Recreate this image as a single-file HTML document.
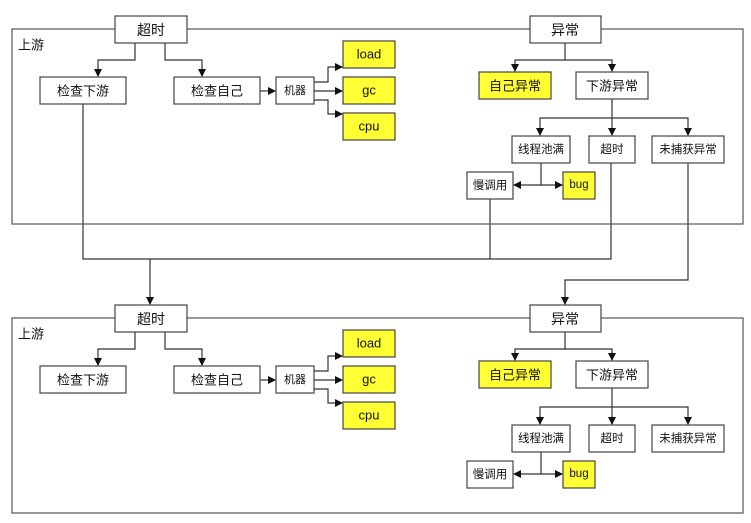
<!DOCTYPE html>
<html><head><meta charset="utf-8"><style>
html,body{margin:0;padding:0;background:#fff;}
svg{display:block;}
text{font-family:"Liberation Sans","Noto Sans CJK SC",sans-serif;fill:#111;text-anchor:middle;dominant-baseline:central;}
</style></head><body>
<svg width="751" height="523" viewBox="0 0 751 523" xmlns="http://www.w3.org/2000/svg">
<defs>
<marker id="a" markerWidth="8" markerHeight="8" refX="7" refY="4" orient="auto" markerUnits="userSpaceOnUse">
<path d="M0,0 L8,4 L0,8 z" fill="#111"/></marker>
<g id="blk">
<rect x="12" y="29" width="731" height="195" fill="none" stroke="#555" stroke-width="1.2"/>
<text x="31" y="45" font-size="13">上游</text>
<g fill="none" stroke="#333" stroke-width="1.2">
<path d="M135,43 V60 H98 V76" marker-end="url(#a)"/>
<path d="M165,43 V60 H202 V76" marker-end="url(#a)"/>
<path d="M260,91 H275" marker-end="url(#a)"/>
<path d="M314,82 H328 V67 H342" marker-end="url(#a)"/>
<path d="M314,91 H342" marker-end="url(#a)"/>
<path d="M314,100 H328 V114 H342" marker-end="url(#a)"/>
<path d="M565,43 V60 H515 V71" marker-end="url(#a)"/>
<path d="M565,60 H612 V71" marker-end="url(#a)"/>
<path d="M612,99 V118 H540 V135" marker-end="url(#a)"/>
<path d="M612,118 V135" marker-end="url(#a)"/>
<path d="M612,118 H688 V135" marker-end="url(#a)"/>
<path d="M541,163 V185 H514" marker-end="url(#a)"/>
<path d="M541,185 H562" marker-end="url(#a)"/>
</g>
<g stroke="#444" stroke-width="1.2">
<rect x="115" y="16" width="72" height="27" fill="#fff"/>
<rect x="530" y="16" width="71" height="27" fill="#fff"/>
<rect x="40" y="77" width="86" height="27" fill="#fff"/>
<rect x="174" y="77" width="86" height="27" fill="#fff"/>
<rect x="276" y="77" width="38" height="27" fill="#fff"/>
<rect x="343" y="41" width="52" height="27" fill="#ffff33"/>
<rect x="343" y="77" width="52" height="27" fill="#ffff33"/>
<rect x="343" y="113" width="52" height="27" fill="#ffff33"/>
<rect x="479" y="72" width="72" height="27" fill="#ffff33"/>
<rect x="576" y="72" width="72" height="27" fill="#fff"/>
<rect x="512" y="136" width="58" height="27" fill="#fff"/>
<rect x="589" y="136" width="46" height="27" fill="#fff"/>
<rect x="652" y="136" width="72" height="27" fill="#fff"/>
<rect x="467" y="172" width="46" height="27" fill="#fff"/>
<rect x="563" y="172" width="32" height="27" fill="#ffff33"/>
</g>
<text x="151" y="30" font-size="14">超时</text>
<text x="565" y="30" font-size="14">异常</text>
<text x="83" y="91" font-size="13">检查下游</text>
<text x="217" y="91" font-size="13">检查自己</text>
<text x="295" y="91" font-size="11">机器</text>
<text x="369" y="54" font-size="13">load</text>
<text x="369" y="90" font-size="13">gc</text>
<text x="369" y="126" font-size="13">cpu</text>
<text x="515" y="86" font-size="13">自己异常</text>
<text x="612" y="86" font-size="13">下游异常</text>
<text x="541" y="150" font-size="11.5">线程池满</text>
<text x="612" y="150" font-size="11.5">超时</text>
<text x="688" y="150" font-size="11.5">未捕获异常</text>
<text x="490" y="186" font-size="11.5">慢调用</text>
<text x="579" y="185" font-size="11.5">bug</text>
</g>
</defs>
<g fill="none" stroke="#333" stroke-width="1.2">
<path d="M83,104 V259 H611 V163"/>
<path d="M490,199 V259"/>
<path d="M150,259 V304" marker-end="url(#a)"/>
<path d="M688,163 V280 H565 V304" marker-end="url(#a)"/>
</g>
<use href="#blk"/>
<use href="#blk" transform="translate(0,289)"/>
</svg>
</body></html>
